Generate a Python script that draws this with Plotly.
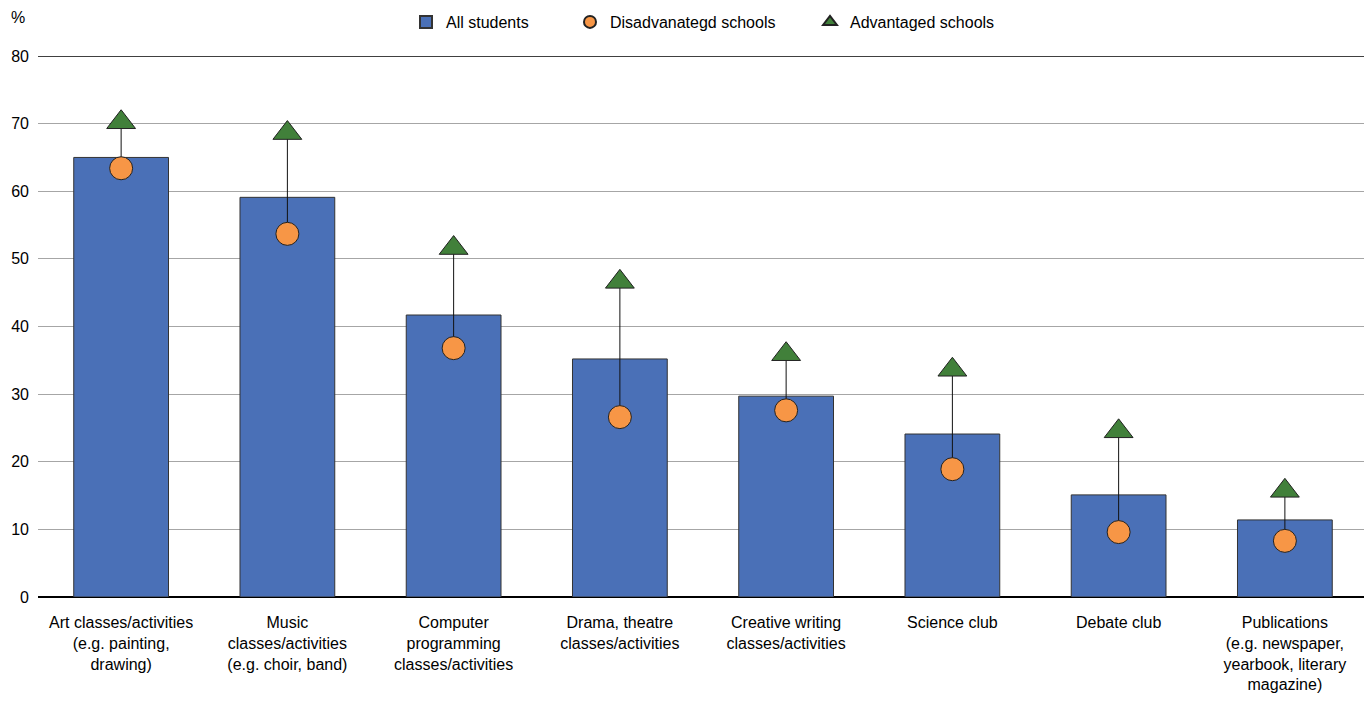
import plotly.graph_objects as go

categories = [
    "Art classes/activities<br>(e.g. painting,<br>drawing)",
    "Music<br>classes/activities<br>(e.g. choir, band)",
    "Computer<br>programming<br>classes/activities",
    "Drama, theatre<br>classes/activities",
    "Creative writing<br>classes/activities",
    "Science club",
    "Debate club",
    "Publications<br>(e.g. newspaper,<br>yearbook, literary<br>magazine)",
]
all_students = [65.0, 59.1, 41.7, 35.2, 29.7, 24.1, 15.1, 11.4]
disadvantaged = [63.4, 53.7, 36.8, 26.6, 27.6, 18.9, 9.6, 8.3]
advantaged = [70.2, 68.6, 51.6, 46.6, 35.9, 33.6, 24.5, 15.7]
y_ticks = [0, 10, 20, 30, 40, 50, 60, 70, 80]

FONT = "Liberation Sans, Arial, sans-serif"
W, H = 1364, 699  # page body has an 8px margin inside the 1372x707 window

fig = go.Figure()

fig.add_trace(go.Bar(
    x=categories, y=all_students, name="All students",
    marker=dict(color="#4a70b7", line=dict(color="#333333", width=1)),
    width=0.57, legend="legend",
))

# connector lines from disadvantaged to advantaged
lx, ly = [], []
for c, d, a in zip(categories, disadvantaged, advantaged):
    lx += [c, c, None]
    ly += [d, a, None]
fig.add_trace(go.Scatter(
    x=lx, y=ly, mode="lines", line=dict(color="#111111", width=1),
    showlegend=False, hoverinfo="skip",
))

fig.add_trace(go.Scatter(
    x=categories, y=disadvantaged, mode="markers", name="Disadvanategd schools",
    marker=dict(symbol="circle", size=23, color="#f79646", line=dict(color="#222222", width=1)),
    legend="legend2",
))
fig.add_trace(go.Scatter(
    x=categories, y=advantaged, mode="markers", name="Advantaged schools",
    marker=dict(symbol="triangle-up", size=25, color="#41803a", line=dict(color="#222222", width=1)),
    legend="legend3",
))

leg_common = dict(
    orientation="h", xanchor="left", yanchor="middle", yref="container",
    xref="container", y=1 - 14 / H, font=dict(size=16),
    bgcolor="rgba(0,0,0,0)", itemsizing="constant",
)

fig.update_layout(
    width=W, height=H,
    paper_bgcolor="white", plot_bgcolor="white",
    margin=dict(l=30, r=4, t=48, b=110),
    font=dict(family=FONT, size=16, color="#000000"),
    showlegend=True,
    legend=dict(leg_common, x=(406 - 8) / W),
    legend2=dict(leg_common, x=(570 - 8) / W),
    legend3=dict(leg_common, x=(810 - 8) / W),
    xaxis=dict(
        showgrid=False, showline=False, ticks="", tickangle=0,
        tickfont=dict(size=16), automargin=False, ticklabelstandoff=14,
    ),
    yaxis=dict(
        range=[0, 80], tickvals=y_ticks, showgrid=True, gridcolor="#a6a6a6",
        gridwidth=1, zeroline=True, zerolinecolor="#000000", zerolinewidth=1.5,
        showline=False, ticks="", tickfont=dict(size=16), ticklabelstandoff=8,
        automargin=False,
    ),
)
fig.add_annotation(text="%", xref="paper", yref="paper", x=-0.015, y=1.0,
                   xanchor="center", yanchor="middle", yshift=39, showarrow=False,
                   font=dict(size=16))
# top black gridline at 80
fig.add_shape(type="line", xref="paper", yref="y", x0=0, x1=1, y0=80, y1=80,
              line=dict(color="#000000", width=1.5))

fig.write_html("out.html")
